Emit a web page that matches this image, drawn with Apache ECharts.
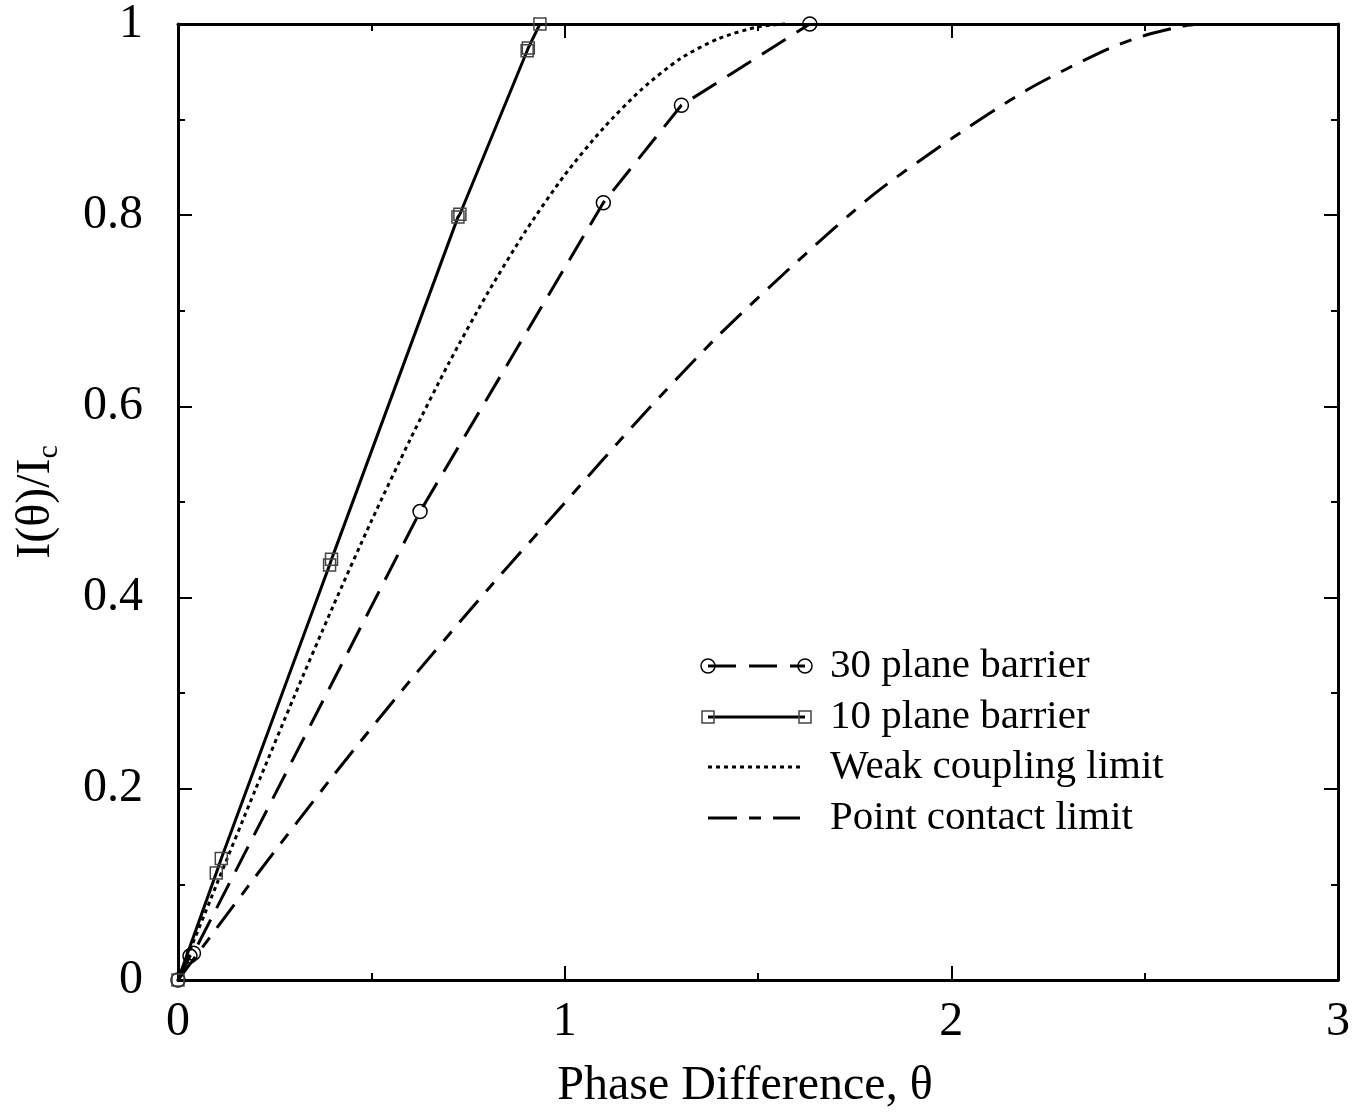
<!DOCTYPE html>
<html>
<head>
<meta charset="utf-8">
<script src="https://cdn.jsdelivr.net/npm/echarts@6/dist/echarts.min.js"></script>
<style>
  html, body { margin: 0; padding: 0; background: #fff; }
  #main { width: 1367px; height: 1113px; }
</style>
</head>
<body>
<div id="main"></div>
<script>
var chartDom = document.getElementById('main');
var myChart = echarts.init(chartDom);

const serif = 'Liberation Serif';

// 30 plane barrier (circles, long dash)
const thirtyTheta = [0, 0.031, 0.040, 0.626, 1.100, 1.302, 1.634];
const thirtyI = [0, 0.025, 0.028, 0.490, 0.813, 0.915, 1.0];

// 10 plane barrier (squares, solid)
const tenTheta = [0, 0.099, 0.112, 0.392, 0.397, 0.724, 0.729, 0.903, 0.906, 0.936];
const tenI = [0, 0.112, 0.127, 0.434, 0.440, 0.798, 0.801, 0.972, 0.975, 1.0];

// weak coupling limit (dotted)
const weakTheta = [0, 0.1, 0.2, 0.3, 0.4, 0.5, 0.6, 0.7, 0.8, 0.9, 1.0, 1.1, 1.2, 1.3, 1.4, 1.5, 1.57];
const weakI = [0, 0.100, 0.199, 0.296, 0.390, 0.480, 0.565, 0.645, 0.718, 0.784, 0.842, 0.891, 0.932, 0.964, 0.985, 0.997, 1.0];

// point contact limit (dash-dot)
const pointTheta = [0, 0.2, 0.4, 0.6, 0.8, 1.0, 1.2, 1.4, 1.6, 1.8, 2.0, 2.2, 2.4, 2.5, 2.6, 2.64];
const pointI = [0, 0.108, 0.213, 0.313, 0.408, 0.499, 0.590, 0.675, 0.751, 0.822, 0.880, 0.932, 0.973, 0.988, 0.998, 1.0];

const legendNames = ['30 plane barrier', '10 plane barrier', 'Weak coupling limit', 'Point contact limit'];

function zip(xs, ys) {
    return xs.map((x, i) => [x, ys[i]]);
}

const dashThirty = [28, 13];
const dashWeak = [4, 4];
const dashPoint = [29, 12, 12, 12];

const tickStyle = { color: '#000', width: 2 };

function makeAxis(type, pos, showLabel, min, max, interval) {
    return {
        type: 'value',
        position: pos,
        min: min,
        max: max,
        interval: interval,
        axisLine: { show: true, onZero: false, lineStyle: { color: '#000', width: 3 } },
        axisTick: { show: true, inside: true, length: 14, lineStyle: tickStyle },
        minorTick: { show: true, splitNumber: 2, length: 7, lineStyle: tickStyle },
        splitLine: { show: false },
        minorSplitLine: { show: false },
        axisLabel: {
            show: showLabel,
            color: '#000',
            fontFamily: serif,
            fontSize: 48,
            margin: type === 'x' ? 18 : 35,
            showMinLabel: true,
            showMaxLabel: true
        }
    };
}

const xBottom = makeAxis('x', 'bottom', true, 0, 3, 1);
xBottom.name = 'Phase Difference, θ';
xBottom.nameLocation = 'middle';
xBottom.nameGap = 82;
xBottom.nameTextStyle = { color: '#000', fontFamily: serif, fontSize: 48, padding: [0, 26, 0, 0] };

const yLeft = makeAxis('y', 'left', true, 0, 1, 0.2);
yLeft.name = '{a|I(θ)/I}{b|c}';
yLeft.nameLocation = 'middle';
yLeft.nameGap = 114;
yLeft.nameTextStyle = {
    color: '#000',
    fontFamily: serif,
    rich: {
        a: { fontFamily: serif, fontSize: 48, lineHeight: 56, color: '#000' },
        b: { fontFamily: serif, fontSize: 30, lineHeight: 30, verticalAlign: 'bottom', color: '#000' }
    }
};

// legend samples drawn as graphics
const legendRows = [666, 717, 767, 818];
const legendX0 = 708, legendX1 = 805, legendText = 830;
const graphics = [];
legendNames.forEach((name, i) => {
    const y = legendRows[i];
    const dash = [dashThirty, null, dashWeak, dashPoint][i];
    graphics.push({
        type: 'line',
        shape: { x1: legendX0, y1: y, x2: i === 2 ? 803 : (i === 3 ? 800 : legendX1), y2: y },
        style: { stroke: '#000', lineWidth: 3, lineDash: dash }
    });
    if (i === 0) {
        [legendX0, legendX1].forEach(cx => graphics.push({
            type: 'circle', shape: { cx: cx, cy: y, r: 7 },
            style: { fill: 'none', stroke: '#000', lineWidth: 1.5 }
        }));
    }
    if (i === 1) {
        [legendX0, legendX1].forEach(cx => graphics.push({
            type: 'rect', shape: { x: cx - 6, y: y - 6, width: 12, height: 12 },
            style: { fill: 'none', stroke: '#444', lineWidth: 1.5 }
        }));
    }
    graphics.push({
        type: 'text',
        x: legendText,
        y: y,
        style: {
            text: name, fill: '#000', font: '41px "Liberation Serif"',
            textAlign: 'left', textVerticalAlign: 'middle', verticalAlign: 'middle'
        }
    });
});

var option = {
    animation: false,
    backgroundColor: '#fff',
    grid: {
        left: 178, right: 29, top: 24, bottom: 133,
        containLabel: false, outerBoundsMode: 'none'
    },
    xAxis: [xBottom, makeAxis('x', 'top', false, 0, 3, 1)],
    yAxis: [yLeft, makeAxis('y', 'right', false, 0, 1, 0.2)],
    graphic: graphics,
    series: [
        {
            name: legendNames[0],
            type: 'line',
            data: zip(thirtyTheta, thirtyI),
            clip: false,
            symbol: 'circle',
            symbolSize: 14,
            itemStyle: { color: 'rgba(0,0,0,0)', borderColor: '#000', borderWidth: 1.5 },
            lineStyle: { color: '#000', width: 3, type: dashThirty },
            z: 3
        },
        {
            name: legendNames[1],
            type: 'line',
            data: zip(tenTheta, tenI),
            clip: false,
            symbol: 'rect',
            symbolSize: 12,
            itemStyle: { color: 'rgba(0,0,0,0)', borderColor: '#444', borderWidth: 1.5 },
            lineStyle: { color: '#000', width: 3 },
            z: 3
        },
        {
            name: legendNames[2],
            type: 'line',
            data: zip(weakTheta, weakI),
            clip: false,
            showSymbol: false,
            symbol: 'none',
            smooth: 0.25,
            lineStyle: { color: '#000', width: 3, type: dashWeak }
        },
        {
            name: legendNames[3],
            type: 'line',
            data: zip(pointTheta, pointI),
            clip: false,
            showSymbol: false,
            symbol: 'none',
            smooth: 0.25,
            lineStyle: { color: '#000', width: 3, type: dashPoint }
        }
    ]
};

myChart.setOption(option);
</script>
</body>
</html>
